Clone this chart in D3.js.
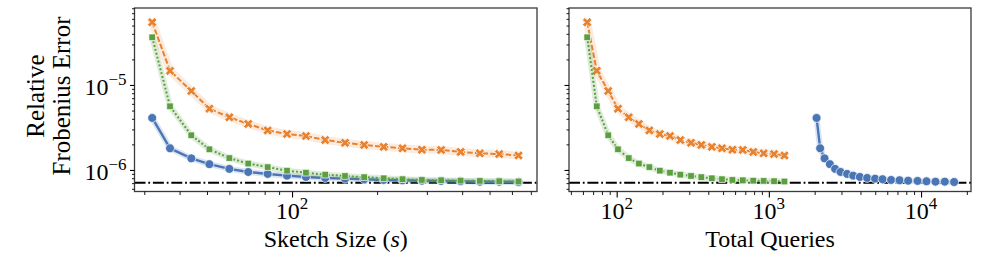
<!DOCTYPE html>
<html>
<head>
<meta charset="utf-8">
<script src="https://cdn.jsdelivr.net/npm/d3@7"></script>
<style>
  body { margin: 0; background: #fff; }
  svg text { font-family: "Liberation Serif", "Times New Roman", serif; fill: #000; }
</style>
</head>
<body>
<svg id="chart" width="1000" height="256"></svg>
<script>
// values
const sketchSizes = [32, 37, 44, 51, 60, 70, 82, 96, 112, 131, 154, 180, 211, 246, 288, 337, 395, 462, 541, 633];
const queriesOrangeGreen = [64, 74, 88, 102, 120, 140, 164, 192, 224, 262, 308, 360, 422, 492, 576, 674, 790, 924, 1082, 1266];
const queriesBlue = [2058, 2173, 2323, 2518, 2727, 2958, 3268, 3581, 3962, 4426, 4990, 5585, 6362, 7225, 8230, 9486, 10866, 12450, 14330, 16500];

const errBlue = [4.09e-6, 1.80e-6, 1.37e-6, 1.17e-6, 1.03e-6, 9.47e-7, 8.98e-7, 8.57e-7, 8.27e-7, 8.05e-7,
                 7.90e-7, 7.78e-7, 7.63e-7, 7.57e-7, 7.48e-7, 7.43e-7, 7.36e-7, 7.28e-7, 7.28e-7, 7.22e-7];
const errOrange = [5.47e-5, 1.47e-5, 8.50e-6, 5.26e-6, 4.17e-6, 3.48e-6, 2.92e-6, 2.65e-6, 2.51e-6, 2.25e-6,
                   2.09e-6, 1.97e-6, 1.87e-6, 1.80e-6, 1.73e-6, 1.72e-6, 1.63e-6, 1.57e-6, 1.54e-6, 1.48e-6];
const errGreen = [3.64e-5, 5.61e-6, 2.56e-6, 1.75e-6, 1.38e-6, 1.19e-6, 1.08e-6, 9.81e-7, 9.29e-7, 8.81e-7,
                  8.50e-7, 8.23e-7, 7.98e-7, 7.79e-7, 7.63e-7, 7.57e-7, 7.48e-7, 7.43e-7, 7.38e-7, 7.32e-7];
const floorErr = 7.09e-7;

const yMajor = [1e-6, 1e-5];
const yMajorExp = ['\u22126', '\u22125'];
const xMajorLeft = [100];
const xMajorLeftExp = ['2'];
const xMajorRight = [100, 1000, 10000];
const xMajorRightExp = ['2', '3', '4'];

const colors = { blue: '#4a76b6', orange: '#e8822f', green: '#5b9f3f' };

const svg = d3.select('#chart');
const plotTop = 8, plotBottom = 191.5;

const y = d3.scaleLog().domain([5.58e-7, 8.05e-5]).range([plotBottom, plotTop]);

function panel(x0, x1, domain, majors, majorExp, series, xlabel, showY) {
  const x = d3.scaleLog().domain(domain).range([x0, x1]);
  const g = svg.append('g');

  // floor line (dash-dot)
  g.append('line')
    .attr('x1', x0).attr('x2', x1)
    .attr('y1', y(floorErr)).attr('y2', y(floorErr))
    .attr('stroke', '#000').attr('stroke-width', 2)
    .attr('stroke-dasharray', '11,2.8,1.8,2.8');

  series.forEach(s => {
    const pts = s.xs.map((v, i) => [x(v), y(s.ys[i])]);
    const line = d3.line();
    // light band under the line
    g.append('path').attr('d', line(pts))
      .attr('fill', 'none').attr('stroke', s.color)
      .attr('stroke-opacity', s.bandOp).attr('stroke-width', s.band)
      .attr('stroke-linejoin', 'round').attr('stroke-linecap', 'round');
    g.append('path').attr('d', line(pts))
      .attr('fill', 'none').attr('stroke', s.color)
      .attr('stroke-width', s.lw)
      .attr('stroke-dasharray', s.dash);

    const sym = d3.symbol().type(s.symbol).size(s.size);
    g.selectAll(null).data(pts).join('path')
      .attr('d', sym())
      .attr('transform', d => `translate(${d[0]},${d[1]}) rotate(${s.rot})`)
      .attr('fill', s.color)
      .attr('stroke', '#fff').attr('stroke-width', 0.7);
  });

  // frame
  g.append('rect')
    .attr('x', x0).attr('y', plotTop)
    .attr('width', x1 - x0).attr('height', plotBottom - plotTop)
    .attr('fill', 'none').attr('stroke', '#3a3a3a').attr('stroke-width', 1.3);

  // x ticks
  const minorX = x.ticks().filter(v => !majors.includes(v));
  const xa = g.append('g').attr('transform', `translate(0,${plotBottom})`);
  xa.append('g').call(d3.axisBottom(x).tickValues(minorX).tickSize(3.5).tickSizeOuter(0).tickFormat(''))
    .call(a => a.select('.domain').remove())
    .call(a => a.selectAll('line').attr('stroke-width', 0.9));
  xa.append('g').call(d3.axisBottom(x).tickValues(majors).tickSize(6).tickSizeOuter(0).tickFormat(''))
    .call(a => a.select('.domain').remove())
    .call(a => a.selectAll('line').attr('stroke-width', 1.1));

  majors.forEach((v, i) => {
    const t = g.append('text')
      .attr('x', x(v)).attr('y', 219)
      .attr('text-anchor', 'middle')
      .attr('font-size', 24);
    t.append('tspan').text('10');
    t.append('tspan').attr('dy', -10).attr('font-size', 17).text(majorExp[i]);
  });

  // y ticks
  const minorY = y.ticks().filter(v => !yMajor.some(m => Math.abs(m - v) / m < 1e-9));
  const ya = g.append('g').attr('transform', `translate(${x0},0)`);
  ya.append('g').call(d3.axisLeft(y).tickValues(minorY).tickSize(2.5).tickSizeOuter(0).tickFormat(''))
    .call(a => a.select('.domain').remove())
    .call(a => a.selectAll('line').attr('stroke-width', 0.9));
  ya.append('g').call(d3.axisLeft(y).tickValues(yMajor).tickSize(4.5).tickSizeOuter(0).tickFormat(''))
    .call(a => a.select('.domain').remove())
    .call(a => a.selectAll('line').attr('stroke-width', 1.1));

  if (showY) {
    yMajor.forEach((v, i) => {
      const t = g.append('text')
        .attr('x', x0 - 8).attr('y', y(v) + 10)
        .attr('text-anchor', 'end')
        .attr('font-size', 24);
      t.append('tspan').text('10');
      t.append('tspan').attr('dy', -10).attr('font-size', 17).text(yMajorExp[i]);
    });
  }

  const xl = g.append('text')
    .attr('x', (x0 + x1) / 2).attr('y', 247)
    .attr('text-anchor', 'middle').attr('font-size', 24);
  xlabel(xl);
}

const blueStyle = { color: colors.blue, lw: 2.4, dash: null, band: 6, bandOp: 0.2, symbol: d3.symbolCircle, size: 62, rot: 0 };
const orangeStyle = { color: colors.orange, lw: 2, dash: '5.5,2.2', band: 8, bandOp: 0.16, symbol: d3.symbolCross, size: 56, rot: 45 };
const greenStyle = { color: colors.green, lw: 2, dash: '2,2', band: 6, bandOp: 0.2, symbol: d3.symbolSquare, size: 44, rot: 0 };

panel(134.5, 537, [27.7, 736], xMajorLeft, xMajorLeftExp, [
  { ...blueStyle, xs: sketchSizes, ys: errBlue },
  { ...orangeStyle, xs: sketchSizes, ys: errOrange },
  { ...greenStyle, xs: sketchSizes, ys: errGreen }
], t => {
  t.append('tspan').text('Sketch Size (');
  t.append('tspan').attr('font-style', 'italic').text('s');
  t.append('tspan').text(')');
}, true);

panel(569, 971, [48.6, 21300], xMajorRight, xMajorRightExp, [
  { ...blueStyle, xs: queriesBlue, ys: errBlue },
  { ...orangeStyle, xs: queriesOrangeGreen, ys: errOrange },
  { ...greenStyle, xs: queriesOrangeGreen, ys: errGreen }
], t => t.text('Total Queries'), false);

// y axis label, two lines
const yl = svg.append('text')
  .attr('transform', 'translate(0,96) rotate(-90)')
  .attr('text-anchor', 'middle').attr('font-size', 25);
yl.append('tspan').attr('x', 0).attr('y', 44).text('Relative');
yl.append('tspan').attr('x', 0).attr('y', 70).text('Frobenius Error');
</script>
</body>
</html>
